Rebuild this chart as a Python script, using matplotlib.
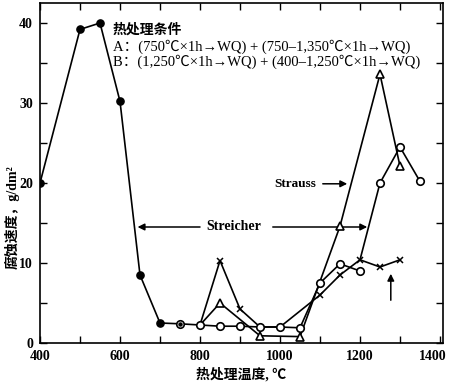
import matplotlib
matplotlib.use("Agg")
import matplotlib.pyplot as plt
from matplotlib.ticker import MultipleLocator

plt.rcParams['font.family'] = ['Liberation Serif', 'Noto Sans CJK SC']

# ---- data ----
filled_t = [400, 500, 550, 600, 650, 700, 750]
filled_v = [20.0, 39.2, 40.0, 30.2, 8.5, 2.5, 2.4]

circ_t = [750, 800, 850, 900, 950, 1000, 1050, 1100, 1150, 1200]
circ_v = [2.4, 2.25, 2.1, 2.1, 2.0, 2.0, 1.9, 7.5, 9.9, 9.0]

cross_t = [800, 850, 900, 950, 1000, 1100, 1150, 1200, 1250, 1300]
cross_v = [2.25, 10.3, 4.25, 2.0, 2.0, 6.0, 8.5, 10.4, 9.5, 10.4]

tri_t = [800, 850, 950, 1050, 1150, 1250, 1300]
tri_v = [2.25, 5.0, 0.9, 0.8, 14.6, 33.6, 22.1]

upper_t = [1200, 1250, 1300, 1350]
upper_v = [10.4, 20.0, 24.5, 20.2]

x_ticks = [400, 600, 800, 1000, 1200, 1400]
x_labels = ['400', '600', '800', '1000', '1200', '1400']
y_ticks = [0, 10, 20, 30, 40]

fig = plt.figure(figsize=(4.5, 3.83), dpi=100)
ax = fig.add_axes([40/450, 40/383, 403/450, 340/383])

lw = 1.2
ms_c = 5.4
# filled circles (B)
ax.plot(filled_t, filled_v, color='black', lw=lw, zorder=3)
ax.plot(filled_t[:-1], filled_v[:-1], 'o', color='black', ms=5.2, zorder=5)

# open circles
ax.plot(circ_t, circ_v, color='black', lw=lw, zorder=3)
ax.plot(circ_t, circ_v, 'o', mfc='white', mec='black', mew=1.2, ms=ms_c, zorder=5)
ax.plot([circ_t[0]], [circ_v[0]], 'o', color='black', ms=2.2, zorder=6)

# crosses
ax.plot(cross_t, cross_v, color='black', lw=lw, zorder=3)
ax.plot(cross_t, cross_v, 'x', color='black', mew=1.1, ms=4.2, zorder=5,
        markevery=[1, 2, 5, 6, 7, 8, 9])

# triangles
ax.plot(tri_t, tri_v, color='black', lw=lw, zorder=3)
ax.plot(tri_t, tri_v, '^', mfc='white', mec='black', mew=1.2, ms=6.4, zorder=5,
        markevery=[1, 2, 3, 4, 5, 6])

# upper circles
ax.plot(upper_t, upper_v, color='black', lw=lw, zorder=3)
ax.plot(upper_t[1:], upper_v[1:], 'o', mfc='white', mec='black', mew=1.2, ms=ms_c, zorder=5)

ax.set_xlim(400, 1407.5)
ax.set_ylim(0, 42.5)
ax.set_xticks(x_ticks)
ax.set_xticklabels(x_labels[:-1] + [''])
ax.set_yticks(y_ticks)
ax.xaxis.set_minor_locator(MultipleLocator(100))
ax.yaxis.set_minor_locator(MultipleLocator(5))
ax.tick_params(which='both', direction='in', top=True, right=True, length=5, width=1.0,
               labelsize=10, pad=5)
for lab in ax.get_xticklabels() + ax.get_yticklabels():
    lab.set_fontweight('bold')
for s in ax.spines.values():
    s.set_linewidth(1.2)
# last x tick label, nudged left so that it stays inside the picture
ax.annotate(x_labels[-1], xy=(x_ticks[-1], 0), xycoords=('data', 'axes fraction'),
            xytext=(-5, -5), textcoords='offset points', ha='center', va='top',
            fontsize=10, fontweight='bold')

ax.set_xlabel('热处理温度, ℃', fontsize=10, fontweight='bold', labelpad=3)
fig.text(12/450, 1 - 217/383, '腐蚀速度，g/dm²', rotation=90, ha='center', va='center',
         fontsize=10, fontweight='bold')

# annotations
ax.text(582, 39.1, '热处理条件', fontsize=10, fontweight='bold', va='center', ha='left')
ax.text(582, 37.05, 'A：(750℃×1h→WQ) + (750–1,350℃×1h→WQ)', fontsize=10.5, va='center', ha='left')
ax.text(582, 35.2, 'B：(1,250℃×1h→WQ) + (400–1,250℃×1h→WQ)', fontsize=10.5, va='center', ha='left')

ax.text(885, 14.5, 'Streicher', fontsize=10, fontweight='bold', ha='center', va='center')
arr = dict(arrowstyle='-|>', color='black', lw=1.1, mutation_scale=10)
ax.annotate('', xy=(637, 14.5), xytext=(807, 14.5), arrowprops=arr)
ax.annotate('', xy=(1225, 14.5), xytext=(975, 14.5), arrowprops=arr)

ax.text(1039, 19.9, 'Strauss', fontsize=9.5, fontweight='bold', ha='center', va='center')
ax.annotate('', xy=(1175, 19.9), xytext=(1100, 19.9), arrowprops=arr)

ax.annotate('', xy=(1277, 9.0), xytext=(1277, 5.0), arrowprops=arr)

fig.savefig('out.png', dpi=100)
